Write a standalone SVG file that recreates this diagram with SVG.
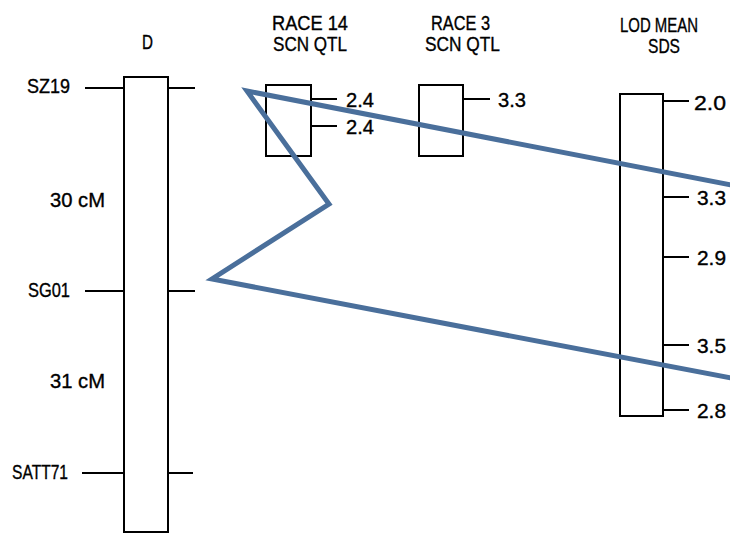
<svg xmlns="http://www.w3.org/2000/svg" width="730" height="535" viewBox="0 0 730 535">
<style>
.t{font-family:"Liberation Sans",Arial,sans-serif;font-size:20px;fill:#000;stroke:#000;stroke-width:0.35}
.box{fill:#fff;stroke:#000;stroke-width:2}
.tk{stroke:#000;stroke-width:2;fill:none}
.blue{fill:none;stroke:#4a6f9b;stroke-width:5;stroke-linejoin:miter}
</style>
<rect width="730" height="535" fill="#fff"/>
<g id="chromD">
<rect class="box" x="124" y="77" width="44" height="455"/>
<text class="t" x="142" y="49" textLength="11" lengthAdjust="spacingAndGlyphs">D</text>
<path class="tk" d="M85 88H124M168 88H195M85 291H124M168 291H195M82 473H124M168 473H193"/>
<text class="t" x="27" y="93" textLength="43" lengthAdjust="spacingAndGlyphs">SZ19</text>
<text class="t" x="50" y="207" textLength="55" lengthAdjust="spacingAndGlyphs">30 cM</text>
<text class="t" x="28" y="297" textLength="42" lengthAdjust="spacingAndGlyphs">SG01</text>
<text class="t" x="50" y="388" textLength="55" lengthAdjust="spacingAndGlyphs">31 cM</text>
<text class="t" x="12" y="479" textLength="56" lengthAdjust="spacingAndGlyphs">SATT71</text>
</g>
<g id="race14">
<text class="t" x="272" y="30" textLength="76" lengthAdjust="spacingAndGlyphs">RACE 14</text>
<text class="t" x="273" y="51" textLength="74" lengthAdjust="spacingAndGlyphs">SCN QTL</text>
<rect class="box" x="266" y="85" width="45" height="71"/>
<path class="tk" d="M311 99H337M311 126H337"/>
<text class="t" x="346" y="107" textLength="28" lengthAdjust="spacingAndGlyphs">2.4</text>
<text class="t" x="346" y="134" textLength="28" lengthAdjust="spacingAndGlyphs">2.4</text>
</g>
<g id="race3">
<text class="t" x="431" y="30" textLength="59" lengthAdjust="spacingAndGlyphs">RACE 3</text>
<text class="t" x="425" y="51" textLength="75" lengthAdjust="spacingAndGlyphs">SCN QTL</text>
<rect class="box" x="419" y="85" width="44" height="71"/>
<path class="tk" d="M463 99H490"/>
<text class="t" x="498" y="107" textLength="28" lengthAdjust="spacingAndGlyphs">3.3</text>
</g>
<g id="lod">
<text class="t" x="620" y="32" textLength="78" lengthAdjust="spacingAndGlyphs">LOD MEAN</text>
<text class="t" x="648" y="53" textLength="32" lengthAdjust="spacingAndGlyphs">SDS</text>
<rect class="box" x="620" y="94" width="43" height="322"/>
<path class="tk" d="M663 101H689M663 197H689M663 257H689M663 345H689M663 410H689"/>
<text class="t" x="694" y="110" textLength="32" lengthAdjust="spacingAndGlyphs">2.0</text>
<text class="t" x="697" y="205" textLength="29" lengthAdjust="spacingAndGlyphs">3.3</text>
<text class="t" x="697" y="265" textLength="29" lengthAdjust="spacingAndGlyphs">2.9</text>
<text class="t" x="697" y="353" textLength="29" lengthAdjust="spacingAndGlyphs">3.5</text>
<text class="t" x="697" y="418" textLength="29" lengthAdjust="spacingAndGlyphs">2.8</text>
</g>
<g id="connectors">
<polyline class="blue" points="731,185 247,91 329,204 212,279 731,378"/>
</g>
</svg>
